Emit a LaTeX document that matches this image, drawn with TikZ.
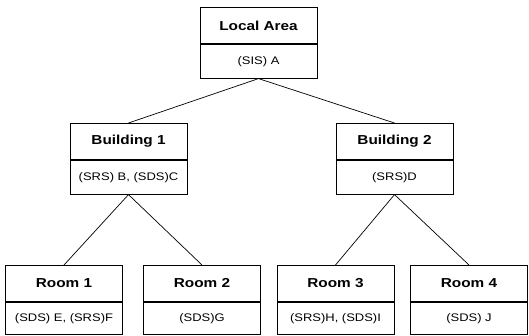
\documentclass[tikz,border=0pt]{standalone}
\usepackage{fontspec}
\setmainfont[FakeStretch=1.18]{Liberation Sans}

\begin{document}
\begin{tikzpicture}[x=1pt, y=1pt,
    head/.style={draw, line width=0.8pt, minimum width=117pt, minimum height=36pt,
      inner sep=0pt, anchor=north, font=\fontsize{13}{15}\selectfont\bfseries},
    body/.style={draw, line width=0.8pt, minimum width=117pt, minimum height=34pt,
      inner sep=0pt, anchor=north, font=\fontsize{11}{13}\selectfont},
    link/.style={line width=0.7pt}]
  \useasboundingbox (0,0) rectangle (529,-335);
  % Local area at the top.
  \node[head] (la) at (258.5,-7) {Local Area};
  \node[body] (la-b) at (la.south) {(SIS) A};
  % Buildings.
  \node[head] (b1) at (128.5,-123) {Building 1};
  \node[body] (b1-b) at (b1.south) {(SRS) B, (SDS)C};
  \node[head] (b2) at (394.5,-123) {Building 2};
  \node[body] (b2-b) at (b2.south) {(SRS)D};
  % Rooms, cut off at the bottom edge.
  \node[head] (r1) at (64,-265) {Room 1};
  \node[body, minimum height=32pt] (r1-b) at (r1.south) {(SDS) E, (SRS)F};
  \node[head] (r2) at (202,-265) {Room 2};
  \node[body, minimum height=32pt] (r2-b) at (r2.south) {(SDS)G};
  \node[head] (r3) at (335.5,-265) {Room 3};
  \node[body, minimum height=32pt] (r3-b) at (r3.south) {(SRS)H, (SDS)I};
  \node[head] (r4) at (469,-265) {Room 4};
  \node[body, minimum height=32pt] (r4-b) at (r4.south) {(SDS) J};
  % Tree links.
  \draw[link] (la-b.south) -- (b1.north);
  \draw[link] (la-b.south) -- (b2.north);
  \draw[link] (b1-b.south) -- (r1.north);
  \draw[link] (b1-b.south) -- (r2.north);
  \draw[link] (b2-b.south) -- (r3.north);
  \draw[link] (b2-b.south) -- (r4.north);
\end{tikzpicture}
\end{document}
